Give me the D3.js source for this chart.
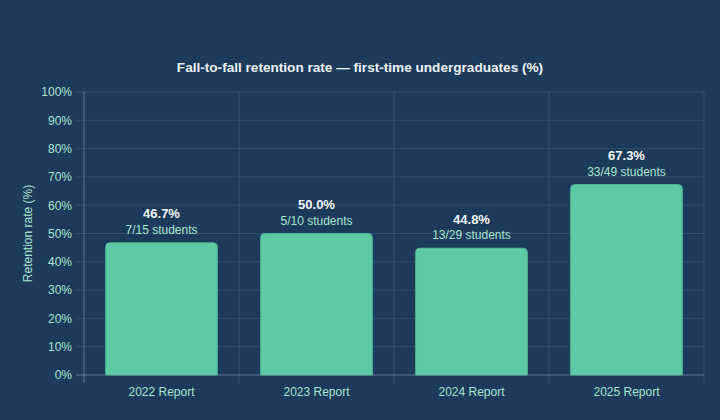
<!DOCTYPE html>
<html>
<head>
<meta charset="utf-8">
<script src="https://cdn.jsdelivr.net/npm/d3@7"></script>
<style>
  html, body { margin: 0; padding: 0; background: #1b3a5c; }
  text { font-family: "Liberation Sans", Arial, Helvetica, sans-serif; }
</style>
</head>
<body>
<div id="chart"></div>
<script>
// Chart data
const categories = ["2022 Report", "2023 Report", "2024 Report", "2025 Report"];
const retention = [46.7, 50.0, 44.8, 67.3];
const retained = [7, 5, 13, 33];
const cohort = [15, 10, 29, 49];
const yTicks = [0, 10, 20, 30, 40, 50, 60, 70, 80, 90, 100];

function createBarChart(containerId) {
    const width = 720;
    const height = 420;
    const margin = { top: 92, right: 16, bottom: 45, left: 84 };
    const innerWidth = width - margin.left - margin.right;
    const innerHeight = height - margin.top - margin.bottom;

    const gridColor = "rgba(255,255,255,0.1)";
    const axisColor = "rgba(255,255,255,0.3)";
    const tickColor = "#a8e6cf";
    const barColor = "#5ccaa5";

    d3.select("#" + containerId).html("");

    const root = d3.select("#" + containerId)
        .append("svg")
        .attr("width", width)
        .attr("height", height);

    root.append("rect")
        .attr("width", width)
        .attr("height", height)
        .attr("fill", "#1b3a5c");

    const svg = root.append("g")
        .attr("transform", `translate(${margin.left},${margin.top})`);

    // Scales
    const x = d3.scaleBand()
        .domain(categories)
        .range([0, innerWidth]);

    const y = d3.scaleLinear()
        .domain([0, 100])
        .range([innerHeight, 0]);

    // Horizontal grid lines with tick marks on the left
    svg.append("g")
        .selectAll("line")
        .data(yTicks)
        .enter()
        .append("line")
        .attr("x1", -8)
        .attr("x2", innerWidth)
        .attr("y1", d => y(d))
        .attr("y2", d => y(d))
        .attr("stroke", d => d === 0 ? axisColor : gridColor)
        .attr("stroke-width", 1);

    // Vertical grid lines at band edges
    const edges = categories.map(c => x(c)).concat([innerWidth]);
    svg.append("g")
        .selectAll("line")
        .data(edges)
        .enter()
        .append("line")
        .attr("x1", d => d)
        .attr("x2", d => d)
        .attr("y1", 0)
        .attr("y2", innerHeight + 8)
        .attr("stroke", (d, i) => i === 0 ? axisColor : gridColor)
        .attr("stroke-width", 1);

    // Y axis labels
    const yAxis = d3.axisLeft(y)
        .tickValues(yTicks)
        .tickFormat(d => d + "%")
        .tickSize(0)
        .tickPadding(12);
    const yG = svg.append("g").call(yAxis);
    yG.select(".domain").remove();
    yG.selectAll("text")
        .attr("fill", tickColor)
        .style("font-size", "12px");

    // X axis labels
    const xAxis = d3.axisBottom(x).tickSize(0).tickPadding(12);
    const xG = svg.append("g")
        .attr("transform", `translate(0,${innerHeight})`)
        .call(xAxis);
    xG.select(".domain").remove();
    xG.selectAll("text")
        .attr("fill", tickColor)
        .style("font-size", "12px");

    // Bars with rounded top corners
    const barWidth = x.bandwidth() * 0.72;
    const r = 4;
    function barPath(d, i) {
        const x0 = x(categories[i]) + (x.bandwidth() - barWidth) / 2;
        const x1 = x0 + barWidth;
        const y0 = y(d);
        const yb = y(0);
        return `M${x0},${yb} L${x0},${y0 + r} Q${x0},${y0} ${x0 + r},${y0} ` +
            `L${x1 - r},${y0} Q${x1},${y0} ${x1},${y0 + r} L${x1},${yb} Z`;
    }
    svg.append("g")
        .selectAll("path")
        .data(retention)
        .enter()
        .append("path")
        .attr("d", barPath)
        .attr("fill", barColor)
        .attr("stroke", "#52b894")
        .attr("stroke-width", 1);

    // Value labels
    const labels = svg.append("g")
        .selectAll("g")
        .data(retention)
        .enter()
        .append("g")
        .attr("transform", (d, i) => `translate(${x(categories[i]) + x.bandwidth() / 2},${y(d)})`);

    labels.append("text")
        .attr("y", -29)
        .attr("dy", ".35em")
        .attr("text-anchor", "middle")
        .attr("fill", "#f4f7fa")
        .style("font-size", "13px")
        .style("font-weight", "bold")
        .text(d => d.toFixed(1) + "%");

    labels.append("text")
        .attr("y", -13)
        .attr("dy", ".35em")
        .attr("text-anchor", "middle")
        .attr("fill", tickColor)
        .style("font-size", "12px")
        .text((d, i) => `${retained[i]}/${cohort[i]} students`);

    // Y axis title
    root.append("text")
        .attr("transform", `translate(28,${margin.top + innerHeight / 2}) rotate(-90)`)
        .attr("text-anchor", "middle")
        .attr("dy", ".35em")
        .attr("fill", tickColor)
        .style("font-size", "12px")
        .text("Retention rate (%)");

    // Chart title
    root.append("text")
        .attr("x", width / 2)
        .attr("y", 67)
        .attr("dy", ".35em")
        .attr("text-anchor", "middle")
        .attr("fill", "#f0f4f8")
        .style("font-size", "13.6px")
        .style("font-weight", "bold")
        .text("Fall-to-fall retention rate — first-time undergraduates (%)");
}

createBarChart("chart");
</script>
</body>
</html>
